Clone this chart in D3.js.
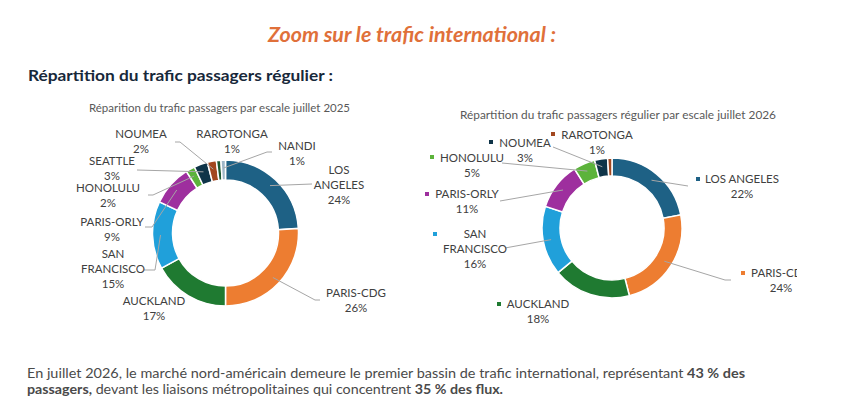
<!DOCTYPE html>
<html>
<head>
<meta charset="utf-8">
<script src="https://cdn.jsdelivr.net/npm/d3@7"></script>
<style>
  body { margin: 0; background: #fff; }
  text { font-family: Lato, "Open Sans", sans-serif; }
</style>
</head>
<body>
<div id="chart"></div>
<script>

// data
const cats2025 = ["LOS ANGELES", "PARIS-CDG", "AUCKLAND", "SAN FRANCISCO", "PARIS-ORLY", "HONOLULU", "SEATTLE", "NOUMEA", "RAROTONGA", "NANDI"];
const vals2025 = [24, 26, 17, 15, 9, 2, 3, 2, 1, 1];

const cats2026 = ["LOS ANGELES", "PARIS-CDG", "AUCKLAND", "SAN FRANCISCO", "PARIS-ORLY", "HONOLULU", "NOUMEA", "RAROTONGA"];
const vals2026 = [22, 24, 18, 16, 11, 5, 3, 1];

const colors2025 = ["#1e6185", "#ed7d31", "#1f7a31", "#20a0da", "#9e2f9e", "#5cb33b", "#0f3448", "#a2471f", "#1c5a32", "#9fb7c8"];
const colors2026 = ["#1e6185", "#ed7d31", "#1f7a31", "#20a0da", "#9e2f9e", "#5cb33b", "#0f3448", "#a2471f"];

// label layout: [x, first baseline, line breaks of the name, leader from label side]
const layout2025 = {
	"LOS ANGELES":   { x: 339, y: 174, name: ["LOS", "ANGELES"], lead: [[312, 184]] },
	"PARIS-CDG":     { x: 356, y: 297, name: ["PARIS-CDG"], lead: [[320, 300], [315, 300]] },
	"AUCKLAND":      { x: 154, y: 305, name: ["AUCKLAND"], lead: null },
	"SAN FRANCISCO": { x: 113, y: 258, name: ["SAN", "FRANCISCO"], lead: [[144, 270], [155, 270]] },
	"PARIS-ORLY":    { x: 112, y: 226, name: ["PARIS-ORLY"], lead: [[145, 227], [152, 227]] },
	"HONOLULU":      { x: 108, y: 192, name: ["HONOLULU"], lead: [[148, 195], [153, 195]] },
	"SEATTLE":       { x: 112, y: 165, name: ["SEATTLE"], lead: [[137, 170]] },
	"NOUMEA":        { x: 141, y: 138, name: ["NOUMEA"], lead: [[175, 142], [180, 142]] },
	"RAROTONGA":     { x: 232, y: 138, name: ["RAROTONGA"], lead: null },
	"NANDI":         { x: 297, y: 150, name: ["NANDI"], lead: [[272, 152], [267, 152]] }
};

const layout2026 = {
	"LOS ANGELES":   { x: 742, y: 183, name: ["LOS ANGELES"], lead: [[688, 186]], mk: [698, 179] },
	"PARIS-CDG":     { x: 781, y: 277, name: ["PARIS-CDG"], lead: [[731, 280], [725, 280]], mk: [743, 273] },
	"AUCKLAND":      { x: 538, y: 308, name: ["AUCKLAND"], lead: null, mk: [499, 304] },
	"SAN FRANCISCO": { x: 475, y: 238, name: ["SAN", "FRANCISCO"], lead: [[505, 248]], mk: [435, 234] },
	"PARIS-ORLY":    { x: 467, y: 198, name: ["PARIS-ORLY"], lead: [[500, 201]], mk: [427, 194] },
	"HONOLULU":      { x: 472, y: 162, name: ["HONOLULU"], lead: [[502, 163]], mk: [432, 157] },
	"NOUMEA":        { x: 525, y: 147, name: ["NOUMEA"], lead: [[553, 147]], mk: [491, 142] },
	"RAROTONGA":     { x: 597, y: 139, name: ["RAROTONGA"], lead: null, mk: [553, 134] }
};

// page
const width = 867, height = 407;

const svg = d3.select("#chart")
	.append("svg")
	.attr("width", width)
	.attr("height", height);

svg.append("text")
	.attr("x", 268).attr("y", 42)
	.attr("textLength", 288).attr("lengthAdjust", "spacingAndGlyphs")
	.style("font-size", "20px").style("font-weight", "bold").style("font-style", "italic")
	.attr("fill", "#e0703a")
	.text("Zoom sur le trafic international :");

svg.append("text")
	.attr("x", 28).attr("y", 81)
	.attr("textLength", 305).attr("lengthAdjust", "spacingAndGlyphs")
	.style("font-size", "16px").style("font-weight", "bold")
	.attr("fill", "#17283a")
	.text("Répartition du trafic passagers régulier :");

function donut(opts) {
	const { cats, vals, colors, layout, cx, cy, outer, inner, title, clipX } = opts;

	const g = svg.append("g");
	if (clipX) {
		const id = "clip" + Math.round(cx);
		svg.append("clipPath").attr("id", id)
			.append("rect").attr("x", 0).attr("y", 0).attr("width", clipX).attr("height", height);
		g.attr("clip-path", `url(#${id})`);
	}

	g.append("text")
		.attr("x", title.x).attr("y", title.y)
		.attr("textLength", title.w).attr("lengthAdjust", "spacingAndGlyphs")
		.style("font-size", "11px")
		.attr("fill", "#595959")
		.text(title.text);

	const data = cats.map((c, i) => ({ name: c, value: vals[i], color: colors[i] }));

	const pie = d3.pie().sort(null).value(d => d.value);
	const arc = d3.arc().innerRadius(inner).outerRadius(outer);
	const leadArc = d3.arc().innerRadius(outer - 8).outerRadius(outer - 8);
	const arcs = pie(data);

	const ring = g.append("g").attr("transform", `translate(${cx},${cy})`);
	ring.selectAll("path")
		.data(arcs)
		.join("path")
		.attr("d", arc)
		.attr("fill", d => d.data.color)
		.attr("stroke", "#fff")
		.attr("stroke-width", 1.5);

	// leader lines
	const line = d3.line();
	arcs.forEach(a => {
		const l = layout[a.data.name];
		if (!l || !l.lead) return;
		const p = leadArc.centroid(a);
		const pts = l.lead.concat([[cx + p[0], cy + p[1]]]);
		g.append("path")
			.attr("d", line(pts))
			.attr("fill", "none")
			.attr("stroke", "#a6a6a6")
			.attr("stroke-width", 1);
	});

	// labels
	arcs.forEach(a => {
		const l = layout[a.data.name];
		if (!l) return;
		const rows = l.name.concat([a.data.value + "%"]);
		const t = g.append("text")
			.attr("text-anchor", "middle")
			.style("font-size", "11.5px")
			.attr("fill", "#404040");
		rows.forEach((r, i) => {
			t.append("tspan")
				.attr("x", l.x)
				.attr("y", l.y + i * 15)
				.text(r);
		});
		if (l.mk) {
			g.append("rect")
				.attr("x", l.mk[0] - 2).attr("y", l.mk[1] - 2)
				.attr("width", 4).attr("height", 4)
				.attr("fill", a.data.color);
		}
	});
}

donut({
	cats: cats2025, vals: vals2025, colors: colors2025, layout: layout2025,
	cx: 225.5, cy: 233, outer: 73, inner: 53,
	title: { x: 89, y: 112, w: 261, text: "Réparition du trafic passagers par escale juillet 2025" }
});

donut({
	cats: cats2026, vals: vals2026, colors: colors2026, layout: layout2026,
	cx: 612, cy: 228, outer: 70, inner: 52, clipX: 797,
	title: { x: 460, y: 119, w: 316, text: "Répartition du trafic passagers régulier par escale juillet 2026" }
});

// commentary
const body = svg.append("g")
	.style("font-size", "13px")
	.attr("fill", "#4a4a4a");

const l1 = body.append("text")
	.attr("x", 27).attr("y", 378)
	.attr("textLength", 718).attr("lengthAdjust", "spacingAndGlyphs");
l1.append("tspan").text("En juillet 2026, le marché  nord-américain  demeure  le premier  bassin de trafic international,  représentant  ");
l1.append("tspan").style("font-weight", "bold").text("43 % des");

const l2 = body.append("text")
	.attr("x", 27).attr("y", 394)
	.attr("textLength", 476).attr("lengthAdjust", "spacingAndGlyphs");
l2.append("tspan").style("font-weight", "bold").text("passagers,");
l2.append("tspan").text("  devant les liaisons métropolitaines  qui concentrent  ");
l2.append("tspan").style("font-weight", "bold").text("35 % des flux.");

</script>
</body>
</html>
